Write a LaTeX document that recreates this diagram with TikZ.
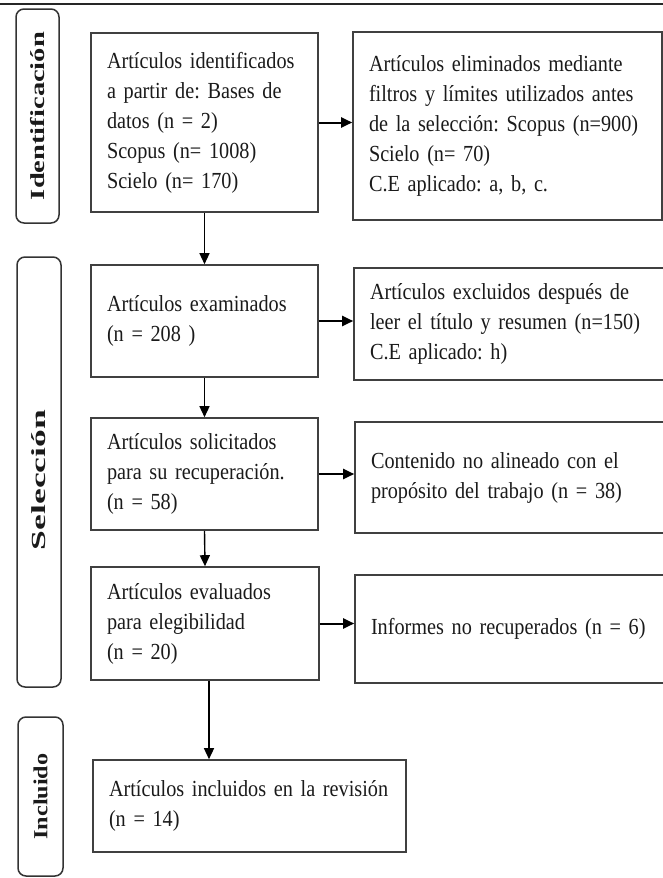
\documentclass[tikz,border=0pt]{standalone}
\usepackage{fontspec}
\setmainfont{Liberation Serif}[FakeStretch=0.88]
\usetikzlibrary{arrows.meta}
\definecolor{boxline}{HTML}{404040}
\definecolor{txt}{HTML}{1A1A1A}
\tikzset{
  fbox/.style={draw=boxline, line width=1.6pt, align=left, inner xsep=16pt, inner ysep=0pt,
    font=\fontsize{23}{30}\selectfont, text=txt,
    execute at begin node={\frenchspacing\hyphenpenalty=10000\exhyphenpenalty=10000}},
  sidebox/.style={draw=black!80, line width=1.5pt, rounded corners=8pt, inner sep=0pt},
  sidelab/.style={rotate=90, font=\bfseries\fontsize{20}{22}\selectfont, text=txt, inner sep=0pt},
  arr/.style={draw=black, line width=1.4pt, -{Triangle[length=11pt,width=10pt]}},
  harr/.style={arr, line width=2pt},
}
\begin{document}
\begin{tikzpicture}[x=1pt,y=-1pt]
\useasboundingbox (0,0) rectangle (663,878);
\clip (0,0) rectangle (663,878);
\draw[line width=2pt, black!85] (0,4) -- (663,4);

% side boxes
\node[sidebox, minimum width=43pt, minimum height=214pt] (s1) at (37.5,116) {};
\node[sidelab] (l1) at (s1.center) {\resizebox{168pt}{\height}{Identificación}};
\node[sidebox, minimum width=44pt, minimum height=430pt] (s2) at (39,472) {};
\node[sidelab] (l2) at ([yshift=-8pt]s2.center) {\resizebox{140pt}{\height}{Selección}};
\node[sidebox, minimum width=45pt, minimum height=159pt] (s3) at (40.5,796.5) {};
\node[sidelab] (l3) at (s3.center) {\resizebox{86pt}{\height}{Incluido}};

% flow boxes
\node[fbox, minimum width=227pt, minimum height=179pt, text width=195pt] (A) at (204.5,122.5)
  {Artículos identificados\\a partir de: Bases de\\datos (n = 2)\\Scopus (n= 1008)\\Scielo (n= 170)};
\node[fbox, minimum width=309pt, minimum height=188pt, text width=277pt] (B) at (507.5,126)
  {Artículos eliminados mediante\\filtros y límites utilizados antes\\de la selección: Scopus (n=900)\\Scielo (n= 70)\\C.E aplicado: a, b, c.};
\node[fbox, minimum width=227pt, minimum height=112pt, text width=195pt] (C) at (204.5,321)
  {Artículos examinados\\(n = 208 )};
\node[fbox, minimum width=318pt, minimum height=112pt, text width=286pt] (D) at (513,324)
  {Artículos excluidos después de\\leer el título y resumen (n=150)\\C.E aplicado: h)};
\node[fbox, minimum width=227pt, minimum height=112pt, text width=195pt] (E) at (204.5,474)
  {Artículos solicitados\\para su recuperación.\\(n = 58)};
\node[fbox, minimum width=317pt, minimum height=111pt, text width=285pt] (F) at (513.5,477.5)
  {Contenido no alineado con el\\propósito del trabajo (n = 38)};
\node[fbox, minimum width=228pt, minimum height=113pt, text width=196pt] (G) at (205,623.5)
  {Artículos evaluados\\para elegibilidad\\(n = 20)};
\node[fbox, minimum width=317pt, minimum height=108pt, text width=285pt] (H) at (513.5,629)
  {Informes no recuperados (n = 6)};
\node[fbox, minimum width=313pt, minimum height=92pt, text width=281pt] (I) at (249.5,806)
  {Artículos incluidos en la revisión\\(n = 14)};

% connectors
\draw[harr] (A.east) -- (A.east -| B.west);
\draw[arr] (A.south) -- (C.north);
\draw[harr] (C.east) -- (C.east -| D.west);
\draw[arr] (C.south) -- (E.north);
\draw[harr] (E.east) -- (E.east -| F.west);
\draw[arr] (E.south) -- (G.north);
\draw[harr] (G.east) -- (G.east -| H.west);
\draw[arr] ([xshift=4pt]G.south) -- ([xshift=4pt]G.south |- I.north);
\end{tikzpicture}
\end{document}
